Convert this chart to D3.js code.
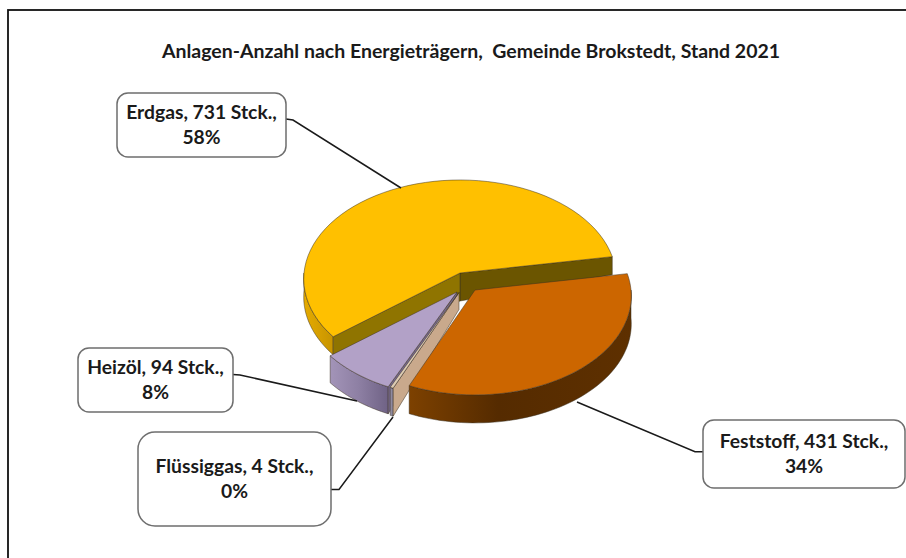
<!DOCTYPE html>
<html>
  <head>
    <meta charset="utf-8">
    <script src="https://cdnjs.cloudflare.com/ajax/libs/d3/7.8.5/d3.min.js"></script>
    <style>
      html, body { margin: 0; padding: 0; background: #fff; }
      svg { display: block; }
    </style>
  </head>
  <body>
    <div id="vis"></div>
    <script type="text/javascript">

        const titleText = "Anlagen-Anzahl nach Energieträgern,  Gemeinde Brokstedt, Stand 2021";

        const categories = ["Erdgas", "Feststoff", "Flüssiggas", "Heizöl"];
        const counts = [731, 431, 4, 94];
        const percentLabels = ["58%", "34%", "0%", "8%"];

        // top face, outer wall, cut wall colours per slice
        const looks = {
            "Erdgas":     {dx: 0,  dy: 0,  rim: 18, apex: 28, top: "#ffc000"},
            "Feststoff":  {dx: 15, dy: 17, rim: 28, apex: 28, top: "#cc6600"},
            "Flüssiggas": {dx: -1, dy: 19.5, rim: 28, apex: 17, top: "#dccbb4"},
            "Heizöl":     {dx: -3, dy: 19, rim: 27, apex: 17, top: "#b2a1c7"}
        };

        const boxes = {
            "Erdgas":     {x: 117, y: 93,  w: 169, h: 64, r: 11, leader: [[286, 119], [293, 120], [401, 188]]},
            "Feststoff":  {x: 703, y: 420, w: 202, h: 68, r: 11, leader: [[703, 451.7], [695, 451.7], [577, 402]]},
            "Flüssiggas": {x: 138, y: 432, w: 193, h: 94, r: 17, leader: [[331, 489.5], [339, 489.5], [393, 417]]},
            "Heizöl":     {x: 78,  y: 348, w: 155, h: 64, r: 11, leader: [[233, 374.5], [240, 375], [357, 401]]}
        };

        const width = 906, height = 558;
        const cx = 460, cy = 273, rx = 156, ry = 98.6, persp = 0.06;

        const svg = d3
            .select("#vis")
            .append("svg")
            .attr("width", width)
            .attr("height", height)
            .attr("viewBox", [0, 0, width, height]);

        const defs = svg.append("defs");

        function wallGradient(id, stops) {
            const g = defs.append("linearGradient").attr("id", id);
            stops.forEach(s => g.append("stop").attr("offset", s[0]).attr("stop-color", s[1]));
        }
        wallGradient("wallErdgas", [[0, "#e6ab00"], [1, "#c79400"]]);
        wallGradient("wallFest", [[0, "#7d4100"], [0.4, "#552b00"], [1, "#5e3000"]]);
        wallGradient("wallHeiz", [[0, "#a394b8"], [0.5, "#8d7fa3"], [1, "#6f6285"]]);

        svg.append("rect")
            .attr("x", 8).attr("y", 10)
            .attr("width", 1100).attr("height", 800)
            .attr("fill", "#fff")
            .attr("stroke", "#111")
            .attr("stroke-width", 1.8);

        svg.append("text")
            .attr("x", 471)
            .attr("y", 58)
            .attr("text-anchor", "middle")
            .style("font-family", "Lato, sans-serif")
            .style("font-weight", 700)
            .style("font-size", "19.5px")
            .style("white-space", "pre")
            .attr("fill", "#1a1a1a")
            .text(titleText);

        // disc with a touch of perspective, angle clockwise from 12 o'clock
        function project(a, r, look, drop) {
            const u = Math.sin(a) * r, v = -Math.cos(a) * r;
            const d = 1 - persp * v;
            return [cx + look.dx + rx * u / d, cy + look.dy + ry * v / d + (drop || 0)];
        }

        function rimPoints(a0, a1, look, drop) {
            return d3.range(0, 61).map(i => project(a0 + (a1 - a0) * i / 60, 1, look, drop));
        }

        const line = d3.line();
        const toRad = d => d * Math.PI / 180;

        const pie = d3.pie()
            .sort(null)
            .startAngle(toRad(231.5))
            .endAngle(toRad(591.5));

        const arcs = pie(counts).map((d, i) => ({...d, name: categories[i], look: looks[categories[i]]}));

        function drawFace(g, pts, fill) {
            g.append("path")
                .attr("d", line(pts) + "Z")
                .attr("fill", fill)
                .attr("stroke", "#3a3020")
                .attr("stroke-width", 0.5)
                .attr("stroke-linejoin", "round");
        }

        function cutWall(a, look) {
            const rimP = project(a, 1, look), rimB = project(a, 1, look, look.rim);
            const apP = project(0, 0, look), apB = project(0, 0, look, look.apex);
            return [apP, rimP, rimB, apB];
        }

        function outerWall(a0, a1, look) {
            return rimPoints(a0, a1, look).concat(rimPoints(a1, a0, look, look.rim));
        }

        function drawSlice(d, wallFill, startFill, endFill, wallRange) {
            const g = svg.append("g").attr("class", "slice").attr("data-name", d.name);
            if (wallFill) drawFace(g, outerWall(wallRange[0], wallRange[1], d.look), wallFill);
            if (endFill) drawFace(g, cutWall(d.endAngle, d.look), endFill);
            if (startFill) drawFace(g, cutWall(d.startAngle, d.look), startFill);
            const pts = [project(0, 0, d.look)].concat(rimPoints(d.startAngle, d.endAngle, d.look));
            drawFace(g, pts, d.look.top);
        }

        const byName = name => arcs.find(a => a.name === name);

        // back to front
        const erd = byName("Erdgas");
        drawSlice(erd, "url(#wallErdgas)", "#8f7400", "#6b5500", [erd.startAngle, toRad(270)]);

        const heiz = byName("Heizöl");
        drawSlice(heiz, "url(#wallHeiz)", "#75688c", null, [heiz.startAngle, heiz.endAngle]);

        const fl = byName("Flüssiggas");
        drawSlice(fl, "#8f8aa0", "#c9a98c", null, [fl.startAngle, fl.endAngle]);

        const fest = byName("Feststoff");
        drawSlice(fest, "url(#wallFest)", null, null, [toRad(450), fest.endAngle]);

        categories.forEach((name, i) => {
            const b = boxes[name];
            svg.append("path")
                .attr("d", line(b.leader))
                .attr("fill", "none")
                .attr("stroke", "#1a1a1a")
                .attr("stroke-width", 1.5);
            svg.append("rect")
                .attr("x", b.x).attr("y", b.y)
                .attr("width", b.w).attr("height", b.h)
                .attr("rx", b.r)
                .attr("fill", "#fff")
                .attr("stroke", "#6e6e6e")
                .attr("stroke-width", 1.5);
            const label = svg.append("text")
                .attr("text-anchor", "middle")
                .style("font-family", "Lato, sans-serif")
                .style("font-weight", 700)
                .style("font-size", "19.3px")
                .attr("fill", "#1a1a1a");
            const mid = b.x + b.w / 2;
            const base = b.y + b.h / 2 - 6;
            label.append("tspan").attr("x", mid).attr("y", base)
                .text(name + ", " + counts[i] + " Stck.,");
            label.append("tspan").attr("x", mid).attr("y", base + 25)
                .text(percentLabels[i]);
        });

    </script>
  </body>
</html>
